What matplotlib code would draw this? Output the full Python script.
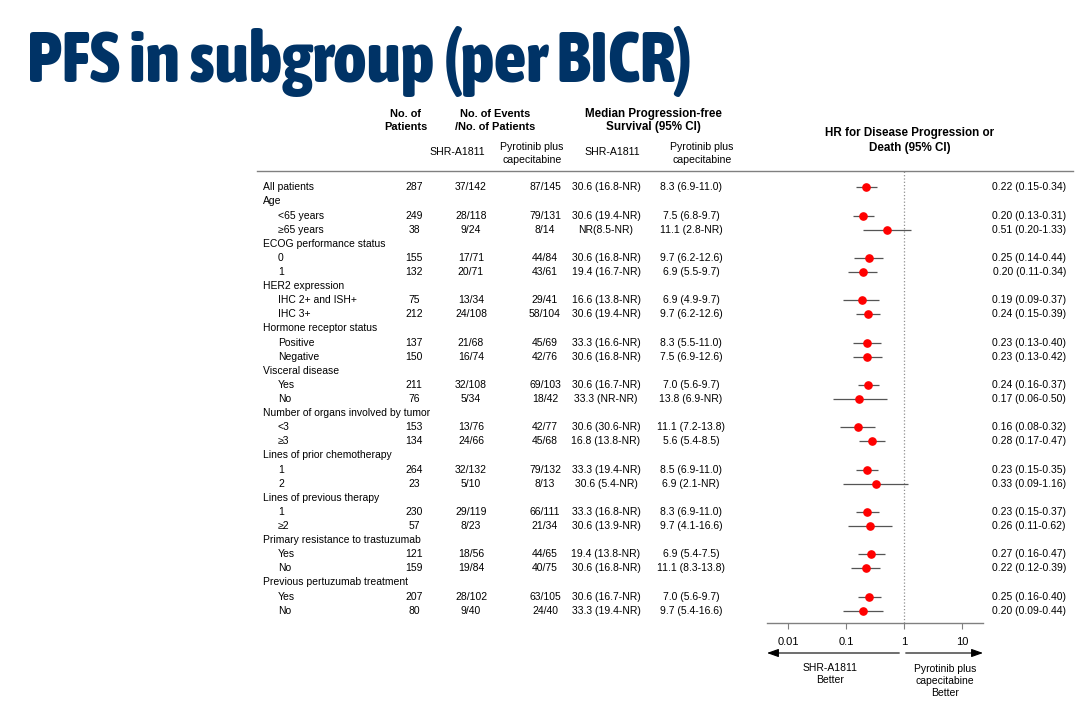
"""
PFS subgroup forest plot (per BICR)
"""
import matplotlib
matplotlib.use("Agg")
import matplotlib.pyplot as plt
import matplotlib.transforms as mtransforms
from matplotlib import font_manager
from matplotlib.font_manager import FontProperties
from matplotlib.lines import Line2D

plt.rcParams['font.family'] = ['Liberation Sans', 'DejaVu Sans']

# ---- data ----
labels = ["All patients", "Age", "<65 years", "\u226565 years",
          "ECOG performance status", "0", "1",
          "HER2 expression", "IHC 2+ and ISH+", "IHC 3+",
          "Hormone receptor status", "Positive", "Negative",
          "Visceral disease", "Yes", "No",
          "Number of organs involved by tumor", "<3", "\u22653",
          "Lines of prior chemotherapy", "1", "2",
          "Lines of previous therapy", "1", "\u22652",
          "Primary resistance to trastuzumab", "Yes", "No",
          "Previous pertuzumab treatment", "Yes", "No"]

n_patients = ["287", None, "249", "38", None, "155", "132", None, "75", "212",
              None, "137", "150", None, "211", "76", None, "153", "134", None,
              "264", "23", None, "230", "57", None, "121", "159", None, "207", "80"]

shr_events = ["37/142", None, "28/118", "9/24", None, "17/71", "20/71", None,
              "13/34", "24/108", None, "21/68", "16/74", None, "32/108", "5/34",
              None, "13/76", "24/66", None, "32/132", "5/10", None, "29/119",
              "8/23", None, "18/56", "19/84", None, "28/102", "9/40"]

pyro_events = ["87/145", None, "79/131", "8/14", None, "44/84", "43/61", None,
               "29/41", "58/104", None, "45/69", "42/76", None, "69/103", "18/42",
               None, "42/77", "45/68", None, "79/132", "8/13", None, "66/111",
               "21/34", None, "44/65", "40/75", None, "63/105", "24/40"]

shr_pfs = ["30.6 (16.8-NR)", None, "30.6 (19.4-NR)", "NR(8.5-NR)", None,
           "30.6 (16.8-NR)", "19.4 (16.7-NR)", None, "16.6 (13.8-NR)",
           "30.6 (19.4-NR)", None, "33.3 (16.6-NR)", "30.6 (16.8-NR)", None,
           "30.6 (16.7-NR)", "33.3 (NR-NR)", None, "30.6 (30.6-NR)",
           "16.8 (13.8-NR)", None, "33.3 (19.4-NR)", "30.6 (5.4-NR)", None,
           "33.3 (16.8-NR)", "30.6 (13.9-NR)", None, "19.4 (13.8-NR)",
           "30.6 (16.8-NR)", None, "30.6 (16.7-NR)", "33.3 (19.4-NR)"]

pyro_pfs = ["8.3 (6.9-11.0)", None, "7.5 (6.8-9.7)", "11.1 (2.8-NR)", None,
            "9.7 (6.2-12.6)", "6.9 (5.5-9.7)", None, "6.9 (4.9-9.7)",
            "9.7 (6.2-12.6)", None, "8.3 (5.5-11.0)", "7.5 (6.9-12.6)", None,
            "7.0 (5.6-9.7)", "13.8 (6.9-NR)", None, "11.1 (7.2-13.8)",
            "5.6 (5.4-8.5)", None, "8.5 (6.9-11.0)", "6.9 (2.1-NR)", None,
            "8.3 (6.9-11.0)", "9.7 (4.1-16.6)", None, "6.9 (5.4-7.5)",
            "11.1 (8.3-13.8)", None, "7.0 (5.6-9.7)", "9.7 (5.4-16.6)"]

hr = [0.22, None, 0.20, 0.51, None, 0.25, 0.20, None, 0.19, 0.24, None, 0.23,
      0.23, None, 0.24, 0.17, None, 0.16, 0.28, None, 0.23, 0.33, None, 0.23,
      0.26, None, 0.27, 0.22, None, 0.25, 0.20]
hr_lo = [0.15, None, 0.13, 0.20, None, 0.14, 0.11, None, 0.09, 0.15, None, 0.13,
         0.13, None, 0.16, 0.06, None, 0.08, 0.17, None, 0.15, 0.09, None, 0.15,
         0.11, None, 0.16, 0.12, None, 0.16, 0.09]
hr_hi = [0.34, None, 0.31, 1.33, None, 0.44, 0.34, None, 0.37, 0.39, None, 0.40,
         0.42, None, 0.37, 0.50, None, 0.32, 0.47, None, 0.35, 1.16, None, 0.37,
         0.62, None, 0.47, 0.39, None, 0.40, 0.44]

x_ticks = [0.01, 0.1, 1, 10]
x_tick_labels = ["0.01", "0.1", "1", "10"]

TITLE = "PFS in subgroup (per BICR)"

# ---- layout helpers (pixel coordinates of a 1080x707 canvas) ----
W, H = 1080, 707
TITLE_W = 666   # title width on the slide, px
TITLE_PT = 51   # size that gives the slide's cap height


def fx(px):
    return px / W


def fy(py):
    return 1 - py / H


def weight_num(w):
    if isinstance(w, (int, float)):
        return w
    return font_manager.weight_dict.get(w, 400)


fig = plt.figure(figsize=(10.8, 7.07), dpi=100)
renderer = fig.canvas.get_renderer()


def title_fontprops():
    """
    The slide uses a bold narrow face (Arial Narrow). Among installed upright
    bold narrow / condensed faces, keep the one whose width at the slide's
    size is closest to the slide's title
    """
    best, best_err = None, None
    for f in font_manager.fontManager.ttflist:
        narrow = ("Narrow" in f.name or "Condensed" in f.name
                  or "condensed" in str(f.stretch))
        fname = f.fname.lower()
        if not narrow or f.style != "normal":
            continue
        if "italic" in fname or "oblique" in fname:
            continue
        if not 600 <= weight_num(f.weight) <= 800:
            continue
        fp = FontProperties(fname=f.fname, size=TITLE_PT)
        try:
            w, _, _ = renderer.get_text_width_height_descent(TITLE, fp, ismath=False)
        except Exception:
            continue
        err = abs(w - TITLE_W)
        if best is None or err < best_err:
            best, best_err = fp, err
    if best is None:
        best = FontProperties(family="Liberation Sans", weight="bold", size=TITLE_PT)
    return best


title = fig.text(fx(27), fy(82), TITLE, ha="left", va="baseline", color="#003366",
                 fontproperties=title_fontprops())
w = title.get_window_extent(renderer).width
if w > TITLE_W:
    title.set_fontsize(TITLE_PT * TITLE_W / w)

# forest axes
ax = fig.add_axes([fx(767), fy(623), fx(983) - fx(767), (623 - 171) / H])
ax.set_xscale("log")
ax.set_xlim(10 ** ((767 - 904) / 58), 10 ** ((983 - 904) / 58))
ax.set_ylim(len(labels) - 1 + 0.87, -1.155)
for side in ("top", "left", "right"):
    ax.spines[side].set_visible(False)
ax.spines["bottom"].set_color("#808080")
ax.spines["bottom"].set_linewidth(1.0)
ax.set_yticks([])
ax.set_xticks(x_ticks)
ax.set_xticklabels(x_tick_labels, fontsize=8)
ax.xaxis.set_minor_locator(matplotlib.ticker.NullLocator())
ax.tick_params(axis="x", direction="out", length=4, color="#808080", pad=6)
ax.patch.set_visible(False)

ax.axvline(1, color="#909090", ls=":", lw=0.9)

rows = [i for i in range(len(labels)) if hr[i] is not None]
ax.hlines(rows, [hr_lo[i] for i in rows], [hr_hi[i] for i in rows],
          color="#555555", lw=0.9)
ax.plot([hr[i] for i in rows], rows, "o", color="red", ms=5.2, mec="red")

# table text: x in figure, y in row units
trans = mtransforms.blended_transform_factory(fig.transFigure, ax.transData)
fs = 7.5
for i, lab in enumerate(labels):
    indent = hr[i] is not None and i != 0
    ax.text(fx(278 if indent else 263), i, lab, transform=trans, ha="left",
            va="center", fontsize=fs)
    if hr[i] is None:
        continue
    ax.text(fx(414), i, n_patients[i], transform=trans, ha="center", va="center", fontsize=fs)
    ax.text(fx(471), i, shr_events[i], transform=trans, ha="center", va="center", fontsize=fs)
    ax.text(fx(545), i, pyro_events[i], transform=trans, ha="center", va="center", fontsize=fs)
    ax.text(fx(606), i, shr_pfs[i], transform=trans, ha="center", va="center", fontsize=fs)
    ax.text(fx(691), i, pyro_pfs[i], transform=trans, ha="center", va="center", fontsize=fs)
    ax.text(fx(1066), i, "%.2f (%.2f-%.2f)" % (hr[i], hr_lo[i], hr_hi[i]),
            transform=trans, ha="right", va="center", fontsize=fs)

# column headers
headers = [
    ("No. of", 406, 114, 7.9, "bold"), ("Patients", 406, 127, 7.9, "bold"),
    ("No. of Events", 495, 114, 7.9, "bold"), ("/No. of Patients", 495, 127, 7.9, "bold"),
    ("Median Progression-free", 653, 114, 8.4, "bold"), ("Survival (95% CI)", 653, 127, 8.4, "bold"),
    ("SHR-A1811", 457, 152, 7.6, "normal"),
    ("Pyrotinib plus", 532, 147, 7.6, "normal"), ("capecitabine", 532, 160, 7.6, "normal"),
    ("SHR-A1811", 612, 152, 7.6, "normal"),
    ("Pyrotinib plus", 702, 147, 7.6, "normal"), ("capecitabine", 702, 160, 7.6, "normal"),
    ("HR for Disease Progression or", 910, 133, 8.4, "bold"),
    ("Death (95% CI)", 910, 148, 8.4, "bold"),
]
for txt, x, y, size, weight in headers:
    fig.text(fx(x), fy(y), txt, ha="center", va="center", fontsize=size, fontweight=weight)

fig.add_artist(Line2D([fx(257), fx(1073)], [fy(171), fy(171)], color="#808080", lw=1.0))

# direction arrows
arrow_y = fy(653)
ax.annotate("", xy=(ax.get_xlim()[0], arrow_y), xytext=(0.83, arrow_y),
            xycoords=("data", "figure fraction"), textcoords=("data", "figure fraction"),
            arrowprops=dict(arrowstyle="-|>,head_length=0.7,head_width=0.25",
                            color="black", lw=0.8, shrinkA=0, shrinkB=0,
                            mutation_scale=10), annotation_clip=False)
ax.annotate("", xy=(ax.get_xlim()[1], arrow_y), xytext=(1.07, arrow_y),
            xycoords=("data", "figure fraction"), textcoords=("data", "figure fraction"),
            arrowprops=dict(arrowstyle="-|>,head_length=0.7,head_width=0.25",
                            color="black", lw=0.8, shrinkA=0, shrinkB=0,
                            mutation_scale=10), annotation_clip=False)
fig.text(fx(830), fy(674), "SHR-A1811\nBetter", ha="center", va="center",
         fontsize=7.5, linespacing=1.25)
fig.text(fx(945), fy(681), "Pyrotinib plus\ncapecitabine\nBetter", ha="center",
         va="center", fontsize=7.5, linespacing=1.25)

fig.savefig("out.png", dpi=100)
